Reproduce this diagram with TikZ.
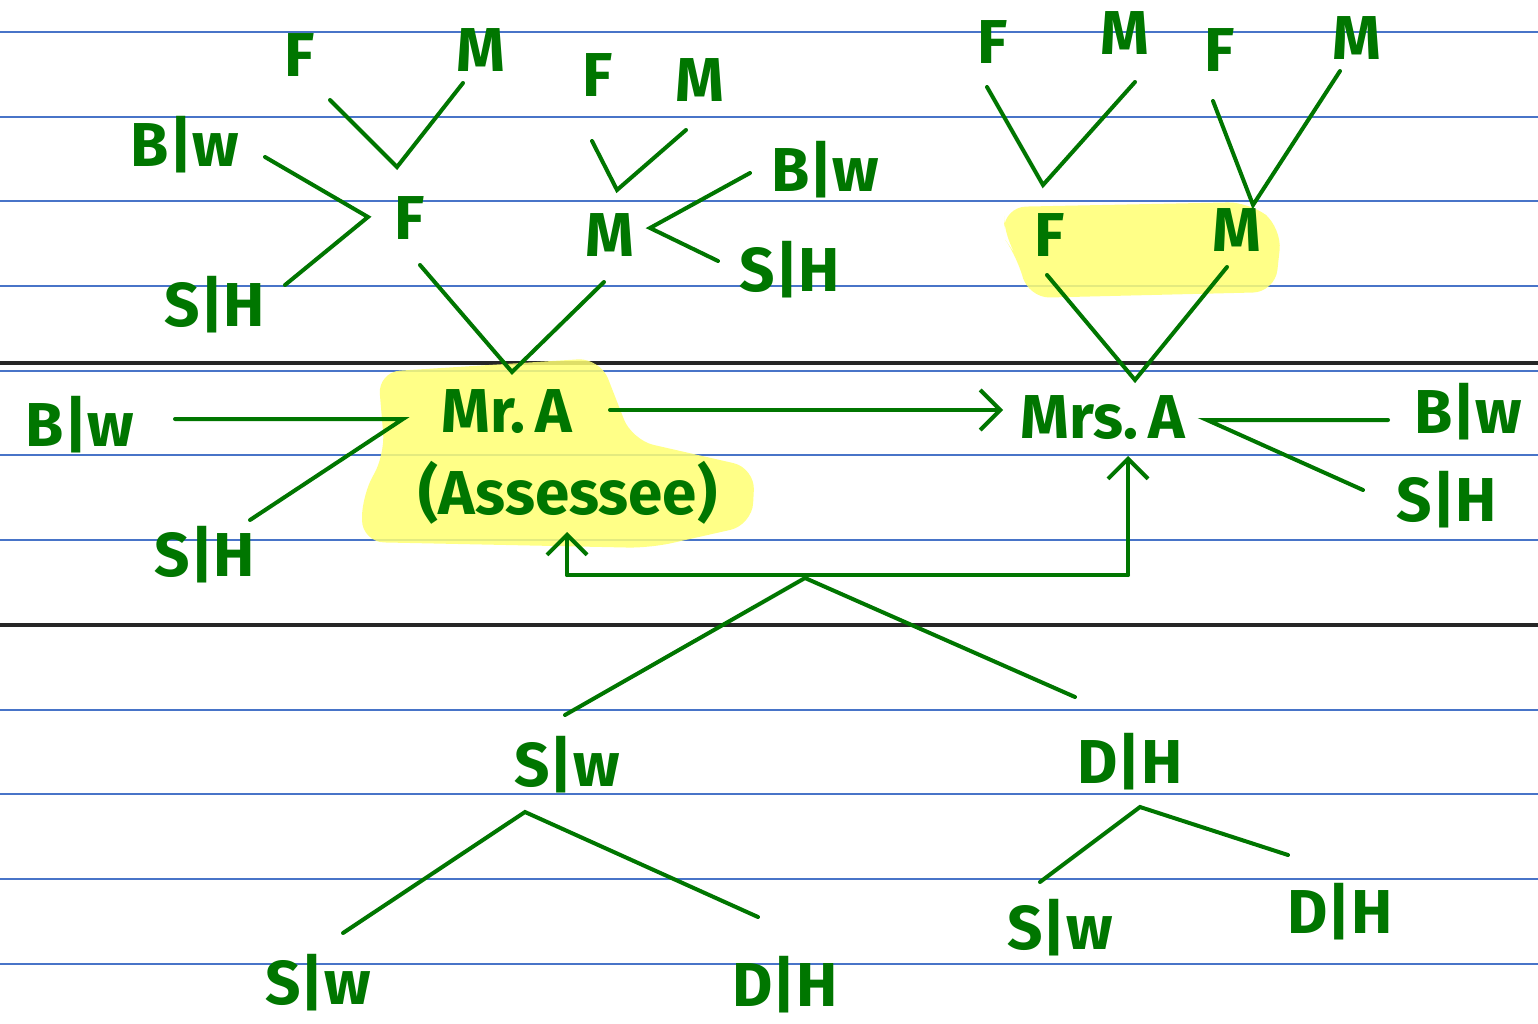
\documentclass[tikz,border=0pt]{standalone}
\usepackage{fontspec}
\setmainfont{Fira Sans}
\usetikzlibrary{arrows.meta}
\definecolor{pen}{RGB}{0,118,0}
\definecolor{ruleblue}{RGB}{72,116,200}
\definecolor{hl}{RGB}{255,255,115}
\begin{document}
\begin{tikzpicture}[x=1pt,y=-1pt,
  hw/.style={text=pen, font=\fontsize{62}{66}\selectfont\bfseries, inner sep=0pt},
  ln/.style={draw=pen, line width=4pt, line cap=round, line join=miter},
  arr/.style={ln, -{Straight Barb[length=20pt,width=40pt]}},
  paperline/.style={draw=ruleblue, line width=2.8pt},
  blackline/.style={draw=black!85, line width=4pt},
  marker/.style={fill=hl, fill opacity=0.85, rounded corners=22pt}]
\useasboundingbox (0,0) rectangle (1538,1024);
\fill[white] (0,0) rectangle (1538,1024);
% ruled paper
\foreach \yy in {32,117,201,286,371,455,540,710,794,879,964}
  \draw[paperline] (0,\yy) -- (1538,\yy);
\draw[blackline] (0,363) -- (1538,363);
\draw[blackline] (0,625) -- (1538,625);
% highlights
\fill[marker] (378,372) -- (600,358) -- (632,440) -- (755,468) -- (752,525) -- (650,548) -- (362,542) -- (362,495) -- (385,455) -- cycle;
\fill[marker] (1004,207) -- (1250,202) -- (1282,228) -- (1275,292) -- (1028,298) -- (1018,258) -- (1004,238) -- cycle;
% texts
\node[hw] (fa) at (300,55) {F};
\node[hw] (ma) at (481,50) {M};
\node[hw] (bw1) at (185,145) {B|w};
\node[hw] (f1) at (410,218) {F};
\node[hw] (sh1) at (215,305) {S|H};
\node[hw] (fb) at (598,75) {F};
\node[hw] (mb) at (700,80) {M};
\node[hw] (bw2) at (825,170) {B|w};
\node[hw] (m1) at (610,235) {M};
\node[hw] (sh2) at (790,270) {S|H};
\node[hw] (fc) at (993,42) {F};
\node[hw] (mc) at (1125,33) {M};
\node[hw] (fd) at (1220,50) {F};
\node[hw] (md) at (1357,38) {M};
\node[hw] (f2) at (1050,235) {F};
\node[hw] (m2) at (1237,230) {M};
\node[hw] (bw3) at (80,425) {B|w};
\node[hw] (mra) at (507,412) {Mr.\,A};
\node[hw] (ass) at (568,493) {(Assessee)};
\node[hw] (sh3) at (205,555) {S|H};
\node[hw] (mrs) at (1103,418) {Mrs.\,A};
\node[hw] (bw4) at (1468,412) {B|w};
\node[hw] (sh4) at (1447,500) {S|H};
\node[hw] (sw1) at (567,765) {S|w};
\node[hw] (dh1) at (1130,762) {D|H};
\node[hw] (sw2) at (318,983) {S|w};
\node[hw] (dh2) at (785,985) {D|H};
\node[hw] (sw3) at (1060,928) {S|w};
\node[hw] (dh3) at (1340,912) {D|H};
% connector points
\coordinate (a1) at (330,100); \coordinate (a2) at (397,167); \coordinate (a3) at (463,83);
\coordinate (b1) at (265,157); \coordinate (b2) at (368,217); \coordinate (b3) at (285,285);
\coordinate (c1) at (420,265); \coordinate (c2) at (512,372); \coordinate (c3) at (604,282);
\coordinate (d1) at (592,141); \coordinate (d2) at (617,190); \coordinate (d3) at (686,130);
\coordinate (e1) at (750,173); \coordinate (e2) at (650,228); \coordinate (e3) at (718,261);
\coordinate (g1) at (987,87); \coordinate (g2) at (1043,185); \coordinate (g3) at (1135,82);
\coordinate (h1) at (1213,101); \coordinate (h2) at (1253,205); \coordinate (h3) at (1340,71);
\coordinate (i1) at (1047,275); \coordinate (i2) at (1135,380); \coordinate (i3) at (1227,267);
\coordinate (j1) at (175,419); \coordinate (j2) at (403,419); \coordinate (j3) at (250,520);
\coordinate (k1) at (610,410); \coordinate (k2) at (1003,410);
\coordinate (l1) at (1388,420); \coordinate (l2) at (1207,420); \coordinate (l3) at (1363,490);
\coordinate (m0) at (567,575); \coordinate (mA) at (567,532); \coordinate (mR) at (1128,575); \coordinate (mB) at (1128,456);
\coordinate (n0) at (805,578); \coordinate (n1) at (565,715); \coordinate (n2) at (1075,697);
\coordinate (o0) at (525,812); \coordinate (o1) at (343,933); \coordinate (o2) at (758,917);
\coordinate (p0) at (1140,807); \coordinate (p1) at (1040,882); \coordinate (p2) at (1288,855);
% connectors
\draw[ln] (a1) -- (a2) -- (a3);
\draw[ln] (b1) -- (b2) -- (b3);
\draw[ln] (c1) -- (c2) -- (c3);
\draw[ln] (d1) -- (d2) -- (d3);
\draw[ln] (e1) -- (e2) -- (e3);
\draw[ln] (g1) -- (g2) -- (g3);
\draw[ln] (h1) -- (h2) -- (h3);
\draw[ln] (i1) -- (i2) -- (i3);
\draw[ln] (j1) -- (j2) -- (j3);
\draw[arr] (k1) -- (k2);
\draw[ln] (l1) -- (l2) -- (l3);
\draw[ln] (m0) -- (mR);
\draw[arr] (m0) -- (mA);
\draw[arr] (mR) -- (mB);
\draw[ln] (n1) -- (n0) -- (n2);
\draw[ln] (o1) -- (o0) -- (o2);
\draw[ln] (p1) -- (p0) -- (p2);
\end{tikzpicture}
\end{document}
